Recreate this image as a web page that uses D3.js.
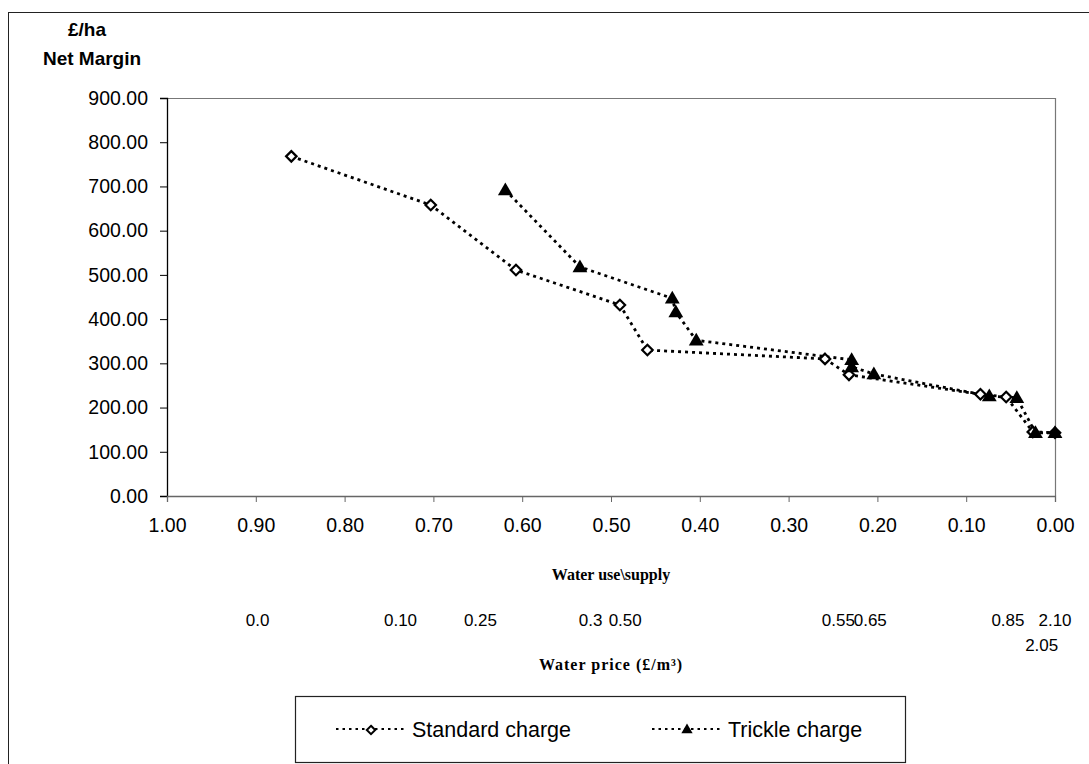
<!DOCTYPE html>
<html>
<head>
<meta charset="utf-8">
<script src="https://cdn.jsdelivr.net/npm/d3@7"></script>
<style>
  html, body { margin: 0; padding: 0; background: #fff; }
  svg { display: block; }
</style>
</head>
<body>
<svg id="chart" width="1089" height="764"></svg>
<script>
// data
const useTicks = [1.0, 0.9, 0.8, 0.7, 0.6, 0.5, 0.4, 0.3, 0.2, 0.1, 0.0];
const marginTicks = [0, 100, 200, 300, 400, 500, 600, 700, 800, 900];

const standardUse    = [0.860, 0.703, 0.607, 0.490, 0.459, 0.259, 0.232, 0.084, 0.055, 0.025, 0.000];
const standardMargin = [768, 658, 511, 432, 330, 310, 274, 230, 224, 145, 143];

const trickleUse    = [0.619, 0.535, 0.431, 0.427, 0.404, 0.229, 0.229, 0.204, 0.074, 0.043, 0.022, 0.000];
const trickleMargin = [692, 518, 447, 416, 352, 308, 292, 276, 226, 222, 143, 143];

// water price labels and the water-use value they sit under
const priceLabels = ["0.0", "0.10", "0.25", "0.3", "0.50", "0.55", "0.65", "0.85", "2.10"];
const priceAt     = [0.898, 0.737, 0.647, 0.523, 0.484, 0.244, 0.208, 0.053, 0.000];
const priceLabelsLower = ["2.05"];
const priceAtLower     = [0.015];

const seriesNames = ["Standard charge", "Trickle charge"];

(function draw() {
  const svg = d3.select("#chart");
  const sans = "'Liberation Sans', Arial, sans-serif";
  const serif = "'Liberation Serif', 'Times New Roman', serif";
  const ink = "#000";

  const L = 167, R = 1055, T = 98, B = 496;
  const x = d3.scaleLinear().domain([1, 0]).range([L, R]);
  const y = d3.scaleLinear().domain([0, 900]).range([B, T]);
  const f2 = d3.format(".2f");

  // outer chart frame
  svg.append("rect").attr("x", 8.5).attr("y", 12.5).attr("width", 1100).attr("height", 800)
    .attr("fill", "none").attr("stroke", "#222").attr("stroke-width", 1);

  // plot frame (top + right)
  svg.append("path").attr("d", `M${L} ${T + 0.5} H${R + 0.5} V${B}`)
    .attr("fill", "none").attr("stroke", "#777").attr("stroke-width", 1.2);

  // y axis
  const yAxis = svg.append("g").attr("transform", `translate(${L},0)`)
    .call(d3.axisLeft(y).tickValues(marginTicks).tickFormat(f2).tickSize(7).tickPadding(12));
  yAxis.select(".domain").attr("stroke", ink).attr("stroke-width", 1.3);
  yAxis.selectAll(".tick line").attr("stroke", ink);
  yAxis.selectAll("text").attr("font-family", sans).attr("font-size", 19.5).attr("fill", ink);

  // x axis
  const xAxis = svg.append("g").attr("transform", `translate(0,${B})`)
    .call(d3.axisBottom(x).tickValues(useTicks).tickFormat(f2).tickSize(6).tickPadding(16));
  xAxis.select(".domain").attr("stroke", "#666").attr("stroke-width", 1.3);
  xAxis.selectAll(".tick line").attr("stroke", "#666");
  xAxis.selectAll("text").attr("font-family", sans).attr("font-size", 19.5).attr("fill", ink);

  // y title
  svg.append("text").attr("x", 87).attr("y", 36).attr("text-anchor", "middle")
    .attr("font-family", sans).attr("font-size", 19).attr("font-weight", 700).text("£/ha");
  svg.append("text").attr("x", 92).attr("y", 65).attr("text-anchor", "middle")
    .attr("font-family", sans).attr("font-size", 19).attr("font-weight", 700).text("Net Margin");

  // x title
  svg.append("text").attr("x", (L + R) / 2).attr("y", 580).attr("text-anchor", "middle")
    .attr("font-family", serif).attr("font-size", 16).attr("font-weight", 700)
    .text("Water use\\supply");

  // water price labels
  svg.append("g").selectAll("text").data(priceLabels).join("text")
    .attr("x", (d, i) => x(priceAt[i])).attr("y", 626).attr("text-anchor", "middle")
    .attr("font-family", sans).attr("font-size", 17).attr("fill", ink).text(d => d);
  svg.append("g").selectAll("text").data(priceLabelsLower).join("text")
    .attr("x", (d, i) => x(priceAtLower[i])).attr("y", 651).attr("text-anchor", "middle")
    .attr("font-family", sans).attr("font-size", 17).attr("fill", ink).text(d => d);

  svg.append("text").attr("x", (L + R) / 2).attr("y", 670).attr("text-anchor", "middle")
    .attr("font-family", serif).attr("font-size", 16).attr("font-weight", 700)
    .attr("letter-spacing", 1).text("Water price (£/m³)");

  // series
  const dash = "3,4";
  function series(useArr, marginArr) {
    const pts = useArr.map((u, i) => [x(u), y(marginArr[i])]);
    svg.append("path").attr("d", d3.line()(pts))
      .attr("fill", "none").attr("stroke", ink).attr("stroke-width", 2.8)
      .attr("stroke-dasharray", dash);
    return pts;
  }
  const diamond = d3.symbol().type(d3.symbolDiamond2).size(70);
  const triangle = d3.symbol().type(d3.symbolTriangle).size(95);

  const sPts = series(standardUse, standardMargin);
  const tPts = series(trickleUse, trickleMargin);

  svg.append("g").selectAll("path").data(sPts).join("path")
    .attr("transform", d => `translate(${d[0]},${d[1]})`).attr("d", diamond)
    .attr("fill", "#fff").attr("stroke", ink).attr("stroke-width", 2.2);
  svg.append("g").selectAll("path").data(tPts).join("path")
    .attr("transform", d => `translate(${d[0]},${d[1] + 1})`).attr("d", triangle)
    .attr("fill", ink);

  // legend
  const lg = svg.append("g");
  lg.append("rect").attr("x", 295.5).attr("y", 696.5).attr("width", 610).attr("height", 66)
    .attr("fill", "#fff").attr("stroke", "#222").attr("stroke-width", 1.2);
  const items = [
    { name: seriesNames[0], x0: 336, sym: d3.symbol().type(d3.symbolDiamond2).size(45), fill: "#fff", sw: 2 },
    { name: seriesNames[1], x0: 652, sym: d3.symbol().type(d3.symbolTriangle).size(55), fill: ink, sw: 0 }
  ];
  items.forEach(it => {
    const cy = 729;
    lg.append("line").attr("x1", it.x0).attr("y1", cy).attr("x2", it.x0 + 70).attr("y2", cy)
      .attr("stroke", ink).attr("stroke-width", 2).attr("stroke-dasharray", "2.5,4");
    lg.append("path").attr("transform", `translate(${it.x0 + 35},${cy + 1})`)
      .attr("d", it.sym).attr("fill", it.fill)
      .attr("stroke", it.sw ? ink : "none").attr("stroke-width", it.sw);
    lg.append("text").attr("x", it.x0 + 76).attr("y", cy + 8)
      .attr("font-family", sans).attr("font-size", 21.5).attr("fill", ink).text(it.name);
  });
})();
</script>
</body>
</html>
